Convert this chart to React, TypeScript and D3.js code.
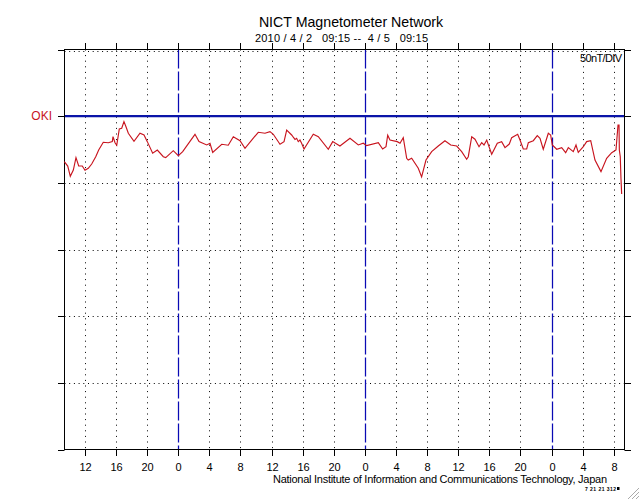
import { useEffect, useRef } from 'react';
import * as d3 from 'd3';

// hours since the start of the window, 2010/4/2 09:15
const okiHours = [
  0.04, 0.48, 0.81, 1.2, 1.54, 1.89, 2.35, 2.7, 3.12, 3.56, 4.08, 4.46, 5.05, 5.7, 6.21, 6.3, 6.56, 6.78, 7.11, 7.42,
  7.71, 7.97, 8.27, 9.0, 9.77, 10.29, 10.71, 11.4, 12.0, 12.77, 13.08, 14.05, 14.7, 15.26, 16.84, 17.36, 18.35, 18.77, 19.12, 20.28,
  21.12, 21.77, 22.63, 23.27, 24.13, 24.98, 25.84, 26.48, 26.91, 27.77, 28.29, 28.63, 29.27, 29.48, 29.7, 29.91, 30.12, 30.34, 30.55, 30.86, 32.05, 32.7, 33.98, 34.55, 35.48,
  36.77, 37.84, 38.48, 38.91, 40.41, 40.97, 41.4, 41.62, 41.91, 42.85, 43.2, 43.62, 44.06, 44.26, 44.7, 45.55, 45.98, 46.54, 47.27, 48.12,
  48.98, 49.72, 50.49, 51.13, 51.77, 51.98, 52.42, 52.84, 53.36, 53.7, 54.0, 54.35, 54.99, 55.71, 56.27, 56.7, 57.25, 57.56, 58.33, 58.63,
  59.05, 59.49, 59.7, 60.34, 60.85, 61.2, 61.62, 62.27, 62.57, 62.78, 63.35, 63.99, 64.5, 64.84, 65.48, 65.83, 66.12, 66.77, 67.2, 67.72,
  68.27, 69.04, 69.77, 70.42, 70.97, 71.23, 71.36, 71.4, 71.52, 71.61, 71.7,
];
// nT relative to the station baseline
const okiValues = [
  -34.1, -37.4, -45.1, -40.4, -31.1, -37.4, -37.4, -40.6, -39.1, -35.9, -30.4, -25.4, -19.6, -19.9, -19.1, -15.4, -19.9, -21.8, -9.6, -9.1,
  -4.1, -7.9, -12.8, -18.8, -12.8, -14.1, -19.1, -27.8, -25.4, -30.4, -31.1, -25.9, -29.6, -26.6, -13.6, -19.1, -21.6, -20.3, -27.2, -21.1,
  -21.8, -15.4, -18.4, -24.1, -17.9, -12.1, -12.8, -11.6, -13.6, -21.1, -19.1, -10.4, -14.1, -15.8, -17.4, -16.6, -19.1, -17.9, -20.3, -24.6, -13.6, -15.4, -24.8, -19.1, -22.4,
  -16.6, -21.6, -20.3, -22.1, -19.9, -24.6, -22.9, -14.3, -17.9, -19.1, -20.3, -16.1, -31.6, -32.9, -31.6, -39.1, -45.6, -32.9, -26.6, -22.4,
  -18.4, -21.6, -22.4, -26.6, -32.3, -30.4, -15.4, -17.3, -22.9, -19.9, -21.6, -17.9, -28.6, -20.3, -19.1, -23.6, -20.9, -16.1, -13.6, -17.9,
  -24.6, -24.6, -19.9, -18.4, -14.6, -16.6, -24.8, -12.8, -14.1, -21.6, -24.8, -23.6, -27.4, -23.6, -26.6, -21.6, -27.1, -22.9, -19.1, -18.4,
  -32.9, -41.6, -31.6, -27.4, -25.4, -6.6, -6.6, -25.4, -30.4, -46.6, -58.4,
];
const hourLabels = [12, 16, 20, 0, 4, 8, 12, 16, 20, 0, 4, 8, 12, 16, 20, 0, 4, 8];
const hourTicks = [2.75, 6.75, 10.75, 14.75, 18.75, 22.75, 26.75, 30.75, 34.75, 38.75, 42.75, 46.75, 50.75, 54.75, 58.75, 62.75, 66.75, 70.75];
const midnightTicks = [14.75, 38.75, 62.75];
const divisions = [0, -50, -100, -150, -200];

const FONT = '"Liberation Sans", Arial, sans-serif';

export default function App() {
  const svgRef = useRef<SVGSVGElement>(null);

  useEffect(() => {
    if (!svgRef.current) return;
    const svg = d3.select(svgRef.current);
    svg.selectAll('*').remove();

    const x = d3.scaleLinear().domain([0, 72]).range([64, 624]);
    const y = d3.scaleLinear().domain([50, -250]).range([49.5, 449.5]);

    const addText = (tx: number, ty: number, s: string, size: number, anchor = 'start', color = '#000') =>
      svg.append('text')
        .attr('x', tx)
        .attr('y', ty)
        .attr('font-size', size)
        .attr('font-family', FONT)
        .attr('text-anchor', anchor)
        .attr('fill', color)
        .style('white-space', 'pre')
        .text(s);

    // Dotted grid
    hourTicks.filter(h => !midnightTicks.includes(h)).forEach(h => {
      svg.append('line')
        .attr('x1', Math.floor(x(h)) + 0.5).attr('x2', Math.floor(x(h)) + 0.5)
        .attr('y1', 49.5).attr('y2', 449.5)
        .attr('stroke', '#000')
        .attr('stroke-dasharray', '1 4.6');
    });
    [50, ...divisions.slice(1)].forEach(v => {
      const py = Math.round(y(v)) + 0.5 + (v === 50 ? 1 : 0);
      svg.append('line')
        .attr('x1', 64.5).attr('x2', 624.5)
        .attr('y1', py).attr('y2', py)
        .attr('stroke', '#000')
        .attr('stroke-dasharray', '1 3.7');
    });

    // Midnight markers
    midnightTicks.forEach(h => {
      svg.append('line')
        .attr('x1', Math.floor(x(h)) + 0.5).attr('x2', Math.floor(x(h)) + 0.5)
        .attr('y1', 49.5).attr('y2', 449.5)
        .attr('stroke', '#0a0ab4')
        .attr('stroke-width', 1.25)
        .attr('stroke-dasharray', '19 3');
    });

    // Baseline
    svg.append('line')
      .attr('x1', 64.5).attr('x2', 624.5)
      .attr('y1', y(0)).attr('y2', y(0))
      .attr('stroke', '#0a14a8')
      .attr('stroke-width', 2.4);

    // Frame and outer ticks
    svg.append('rect')
      .attr('x', 64.5).attr('y', 49.5).attr('width', 560).attr('height', 400)
      .attr('fill', 'none').attr('stroke', '#000');
    [50, ...divisions, -250].forEach(v => {
      const py = Math.round(y(v)) + 0.5;
      svg.append('line').attr('x1', 58).attr('x2', 64.5).attr('y1', py).attr('y2', py).attr('stroke', '#000');
      svg.append('line').attr('x1', 624.5).attr('x2', 631).attr('y1', py).attr('y2', py).attr('stroke', '#000');
    });
    hourTicks.forEach(h => {
      const px = Math.floor(x(h)) + 0.5;
      svg.append('line').attr('x1', px).attr('x2', px).attr('y1', 43).attr('y2', 49.5).attr('stroke', '#000');
      svg.append('line').attr('x1', px).attr('x2', px).attr('y1', 449.5).attr('y2', 456).attr('stroke', '#000');
    });

    // Trace
    const line = d3.line<number>()
      .x((_, i) => x(okiHours[i]))
      .y(d => y(d));
    svg.append('path')
      .attr('d', line(okiValues) || '')
      .attr('fill', 'none')
      .attr('stroke', '#c8141e')
      .attr('stroke-width', 1.15);

    // Labels
    addText(351, 27, 'NICT Magnetometer Network', 14.2, 'middle');
    addText(255, 42, '2010 / 4 / 2   09:15 --  4 / 5   09:15', 11).attr('textLength', 173);
    addText(580, 62, '50nT/DIV', 11).attr('textLength', 42);
    addText(52, 120, 'OKI', 12, 'end', '#c8141e');
    hourTicks.forEach((h, i) => {
      addText(Math.floor(x(h)) + 0.5, 471, String(hourLabels[i]), 11, 'middle');
    });
    addText(273, 483, 'National Institute of Information and Communications Technology, Japan', 11).attr('textLength', 334);

    // Small stamp under the footer, and the window's resize grip
    addText(585, 491, '7 21 21 312', 5, 'start').attr('textLength', 31).attr('font-weight', 'bold');
    svg.append('rect').attr('x', 617).attr('y', 487).attr('width', 2.5).attr('height', 3).attr('fill', '#000');
    [0, 4, 8].forEach(d => {
      svg.append('line')
        .attr('x1', 628 + d).attr('y1', 499)
        .attr('x2', 639).attr('y2', 488 + d)
        .attr('stroke', '#aaa');
    });
  }, []);

  return (
    <svg
      ref={svgRef}
      width={640}
      height={500}
      style={{ position: 'absolute', left: 0, top: 0, background: '#fff' }}
    />
  );
}
